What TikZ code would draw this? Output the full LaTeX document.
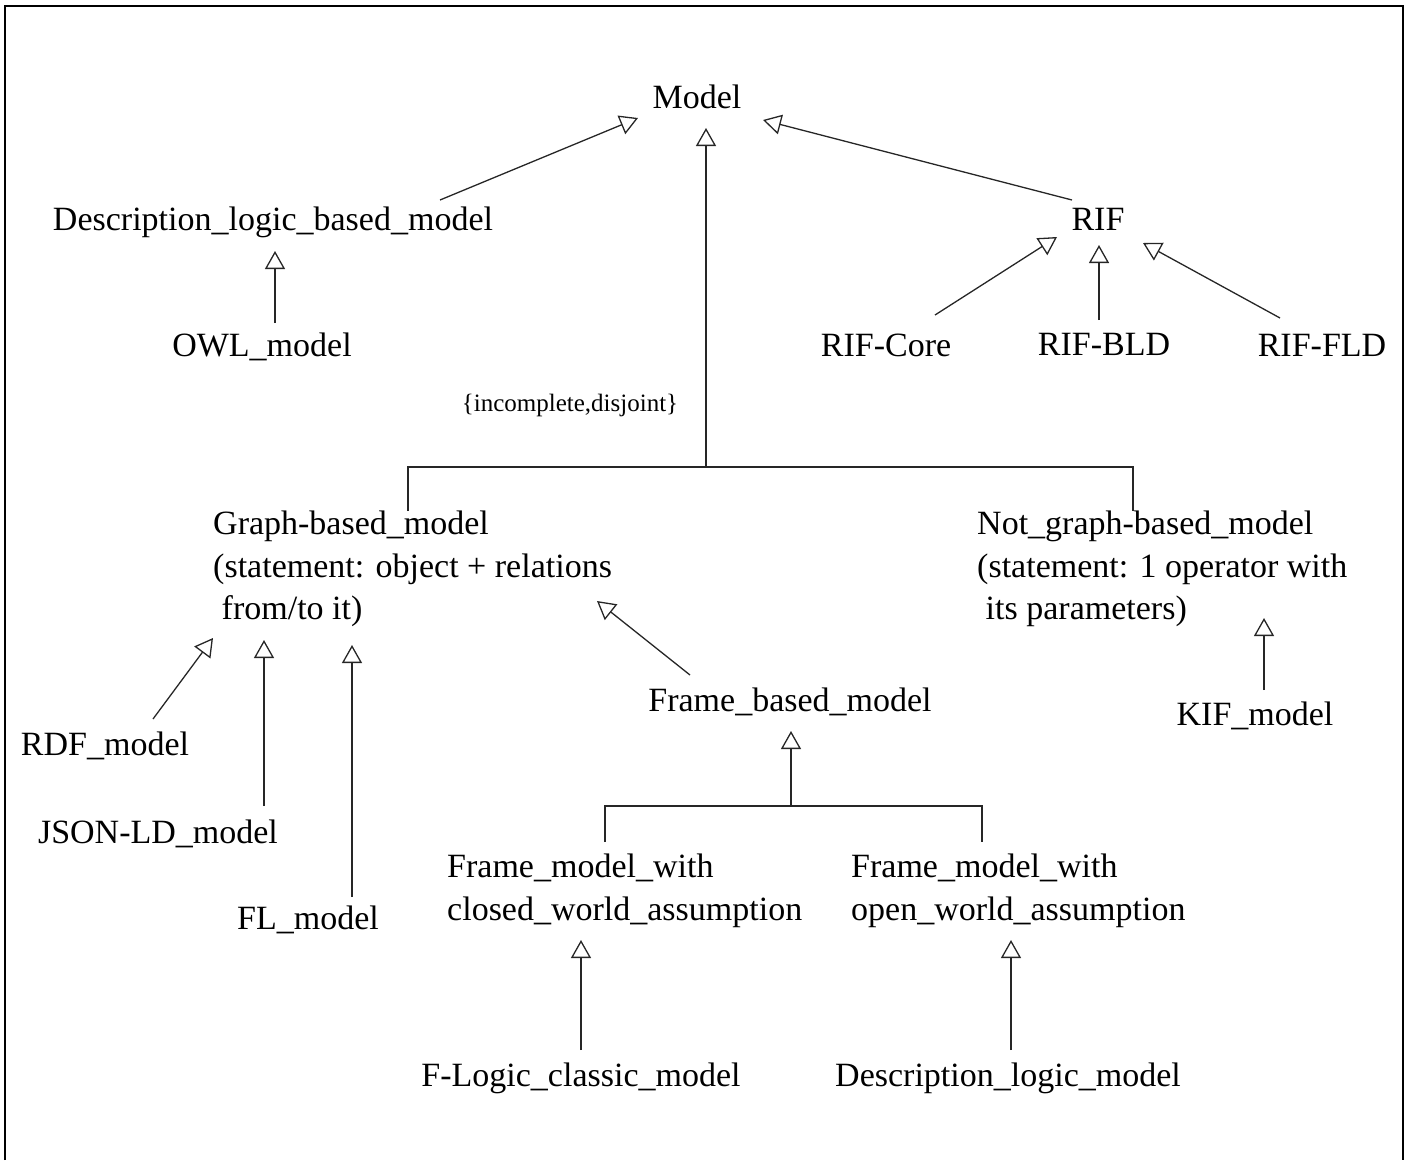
\documentclass[tikz,border=0pt]{standalone}
\usepackage{fontspec}
\setmainfont{Liberation Serif}
\usetikzlibrary{arrows.meta}
\begin{document}
\begin{tikzpicture}[x=1pt,y=-1pt,
  lbl/.style={inner sep=0pt,anchor=base,font=\fontsize{34}{42.5}\selectfont},
  mlbl/.style={inner sep=0pt,anchor=north west,align=left,font=\fontsize{34}{42.5}\selectfont},
  link/.style={line width=1.3pt,draw=black!85},
  gen/.style={link,-{Triangle[open,length=18pt,width=20pt,line width=1.3pt]}}]
\useasboundingbox (0,0) rectangle (1407,1160);
% frame (open at the bottom)
\draw[line width=2.6pt] (5,1160) -- (5,6) -- (1403,6) -- (1403,1160);

% classes
\node[lbl] (model)   at (697,108)  {Model};
\node[lbl] (dlbm)    at (273,230)  {Description\_logic\_based\_model};
\node[lbl] (owl)     at (262,356)  {OWL\_model};
\node[lbl] (rif)     at (1098,230) {RIF};
\node[lbl] (rifcore) at (886,356)  {RIF-Core};
\node[lbl] (rifbld)  at (1104,355) {RIF-BLD};
\node[lbl] (riffld)  at (1322,356) {RIF-FLD};
\node[inner sep=0pt,anchor=base,font=\fontsize{25}{30}\selectfont] (constr) at (570,411) {\{incomplete,disjoint\}};
\node[mlbl] (gbm)  at (213,511) {Graph-based\_model\\(statement: object + relations\\\ from/to it)};
\node[mlbl] (ngbm) at (977,511) {Not\_graph-based\_model\\(statement: 1 operator with\\\ its parameters)};
\node[lbl] (fbm)    at (790,711)  {Frame\_based\_model};
\node[lbl] (rdf)    at (105,755)  {RDF\_model};
\node[lbl] (jsonld) at (158,843)  {JSON-LD\_model};
\node[lbl] (fl)     at (308,929)  {FL\_model};
\node[lbl] (kif)    at (1255,725) {KIF\_model};
\node[mlbl] (fmc) at (447,854) {Frame\_model\_with\\closed\_world\_assumption};
\node[mlbl] (fmo) at (851,854) {Frame\_model\_with\\open\_world\_assumption};
\node[lbl] (flogic) at (581,1086)  {F-Logic\_classic\_model};
\node[lbl] (dlm)    at (1008,1086) {Description\_logic\_model};

% connector end points
\coordinate (dlbm-up)   at (440,200);  \coordinate (model-l)  at (638,118);
\coordinate (owl-up)    at (275,323);  \coordinate (dlbm-dn)  at (275,251);
\coordinate (split)     at (706,467);  \coordinate (model-dn) at (706,128);
\coordinate (gbm-up)    at (408,511);  \coordinate (ngbm-up)  at (1133,511);
\coordinate (rif-up)    at (1072,200); \coordinate (model-r)  at (763,120);
\coordinate (rifcore-up) at (935,315); \coordinate (rif-l)    at (1057,237);
\coordinate (rifbld-up) at (1099,320); \coordinate (rif-dn)   at (1099,245);
\coordinate (riffld-up) at (1280,318); \coordinate (rif-r)    at (1143,243);
\coordinate (fbm-up)    at (690,675);  \coordinate (gbm-r)    at (597,601);
\coordinate (rdf-up)    at (153,719);  \coordinate (gbm-a)    at (213,638);
\coordinate (jsonld-up) at (264,806);  \coordinate (gbm-b)    at (264,640);
\coordinate (fl-up)     at (352,897);  \coordinate (gbm-c)    at (352,645);
\coordinate (kif-up)    at (1264,690); \coordinate (ngbm-dn)  at (1264,618);
\coordinate (fsplit)    at (791,806);  \coordinate (fbm-dn)   at (791,731);
\coordinate (fmc-up)    at (605,842);  \coordinate (fmo-up)   at (982,842);
\coordinate (flogic-up) at (581,1050); \coordinate (fmc-dn)   at (581,940);
\coordinate (dlm-up)    at (1011,1050);\coordinate (fmo-dn)   at (1011,940);

% generalisations
\draw[gen] (dlbm-up) -- (model-l);
\draw[gen] (owl-up) -- (dlbm-dn);
\draw[link] (gbm-up) |- (split) -| (ngbm-up);
\draw[gen] (split) -- (model-dn);
\draw[gen] (rif-up) -- (model-r);
\draw[gen] (rifcore-up) -- (rif-l);
\draw[gen] (rifbld-up) -- (rif-dn);
\draw[gen] (riffld-up) -- (rif-r);
\draw[gen] (fbm-up) -- (gbm-r);
\draw[gen] (rdf-up) -- (gbm-a);
\draw[gen] (jsonld-up) -- (gbm-b);
\draw[gen] (fl-up) -- (gbm-c);
\draw[gen] (kif-up) -- (ngbm-dn);
\draw[link] (fmc-up) |- (fsplit) -| (fmo-up);
\draw[gen] (fsplit) -- (fbm-dn);
\draw[gen] (flogic-up) -- (fmc-dn);
\draw[gen] (dlm-up) -- (fmo-dn);
\end{tikzpicture}
\end{document}
